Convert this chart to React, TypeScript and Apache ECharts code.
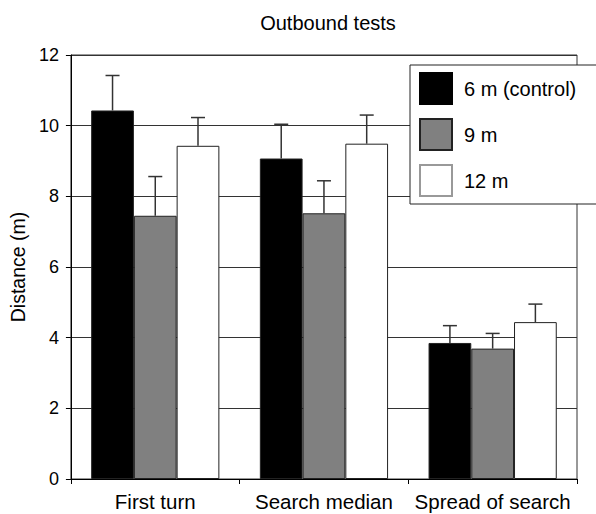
import React, { useEffect, useRef } from "react";
import * as echarts from "echarts";

const categories = ["First turn", "Search median", "Spread of search"];
const seriesNames = ["6 m (control)", "9 m", "12 m"];
const controlValues = [10.43, 9.07, 3.85];
const controlUpper = [11.42, 10.04, 4.34];
const m9Values = [7.45, 7.52, 3.69];
const m9Upper = [8.56, 8.44, 4.12];
const m12Values = [9.43, 9.49, 4.44];
const m12Upper = [10.23, 10.3, 4.95];
const yTicks = [0, 2, 4, 6, 8, 10, 12];

const FONT = "'Liberation Sans', Arial, Helvetica, sans-serif";
const CAT_GAP = 0.24;

export default function App() {
  const ref = useRef<HTMLDivElement>(null);
  useEffect(() => {
    if (!ref.current) return;
    const chart = echarts.init(ref.current, null, { renderer: "svg" });
    const values = [controlValues, m9Values, m12Values];
    const uppers = [controlUpper, m9Upper, m12Upper];
    const fills = ["#000000", "#808080", "#ffffff"];
    const errData: any[] = [];
    values.forEach((vals, k) => {
      vals.forEach((v, i) => errData.push([i, v, uppers[k][i], k]));
    });
    chart.setOption({
      animation: false,
      backgroundColor: "#ffffff",
      title: {
        text: "Outbound tests",
        left: 323,
        top: 8,
        textAlign: "center",
        textStyle: { fontFamily: FONT, fontSize: 20, fontWeight: "normal", color: "#000" },
      },
      grid: {
        left: 68,
        right: 19,
        top: 55,
        bottom: 35,
        show: true,
        borderColor: "#333",
        borderWidth: 1,
        backgroundColor: "transparent",
      },
      legend: {
        orient: "vertical",
        left: 410,
        top: 65,
        backgroundColor: "#fff",
        borderColor: "#222",
        borderWidth: 1,
        borderRadius: 0,
        padding: [7, 40, 7, 9],
        itemWidth: 32,
        itemHeight: 31,
        itemGap: 13,
        icon: "rect",
        textStyle: { fontFamily: FONT, fontSize: 20, color: "#000", padding: [0, 0, 0, 7] },
        data: [
          { name: seriesNames[0], itemStyle: { borderColor: "#000" } },
          { name: seriesNames[1], itemStyle: { borderColor: "#222" } },
          { name: seriesNames[2], itemStyle: { borderColor: "#999" } },
        ],
      },
      xAxis: {
        type: "category",
        data: categories,
        axisLine: { lineStyle: { color: "#000", width: 1 } },
        axisTick: { show: true, length: 5, lineStyle: { color: "#000" } },
        axisLabel: {
          fontFamily: FONT,
          fontSize: 20.5,
          color: "#000",
          margin: 12,
          interval: 0,
          hideOverlap: false,
        },
        splitLine: { show: false },
      },
      yAxis: {
        type: "value",
        min: 0,
        max: 12,
        interval: 2,
        name: "Distance (m)",
        nameLocation: "middle",
        nameRotate: 90,
        nameGap: 40,
        nameTextStyle: { fontFamily: FONT, fontSize: 19.5, color: "#000" },
        axisLine: { show: true, lineStyle: { color: "#000", width: 1 } },
        axisTick: { show: true, length: 5, lineStyle: { color: "#000" } },
        axisLabel: {
          fontFamily: FONT,
          fontSize: 18,
          color: "#000",
          margin: 12,
          formatter: (v: number) => (yTicks.includes(v) ? String(v) : ""),
        },
        splitLine: { show: true, lineStyle: { color: "#333", width: 1 } },
      },
      series: [
        ...seriesNames.map((name, k) => ({
          name,
          type: "bar",
          data: values[k],
          barGap: "0%",
          barCategoryGap: CAT_GAP * 100 + "%",
          itemStyle: { color: fills[k], borderColor: "#222", borderWidth: 1 },
          z: 2,
        })),
        {
          type: "custom",
          name: "err",
          data: errData,
          z: 5,
          encode: { x: 0, y: 2 },
          renderItem: (params: any, api: any) => {
            const cat = api.value(0);
            const v = api.value(1);
            const up = api.value(2);
            const k = api.value(3);
            const bw = api.size([1, 0])[0];
            const barW = (bw * (1 - CAT_GAP)) / 3;
            const x = api.coord([cat, 0])[0] + (k - 1) * barW;
            const y0 = api.coord([cat, v])[1];
            const y1 = api.coord([cat, up])[1];
            const style = { stroke: "#333", lineWidth: 1.5 };
            return {
              type: "group",
              children: [
                { type: "line", shape: { x1: x, y1: y0, x2: x, y2: y1 }, style },
                { type: "line", shape: { x1: x - 7, y1: y1, x2: x + 7, y2: y1 }, style },
              ],
            };
          },
        },
      ],
    });
    return () => chart.dispose();
  }, []);
  return <div ref={ref} style={{ position: "fixed", left: 0, top: 0, width: 596, height: 514 }} />;
}
